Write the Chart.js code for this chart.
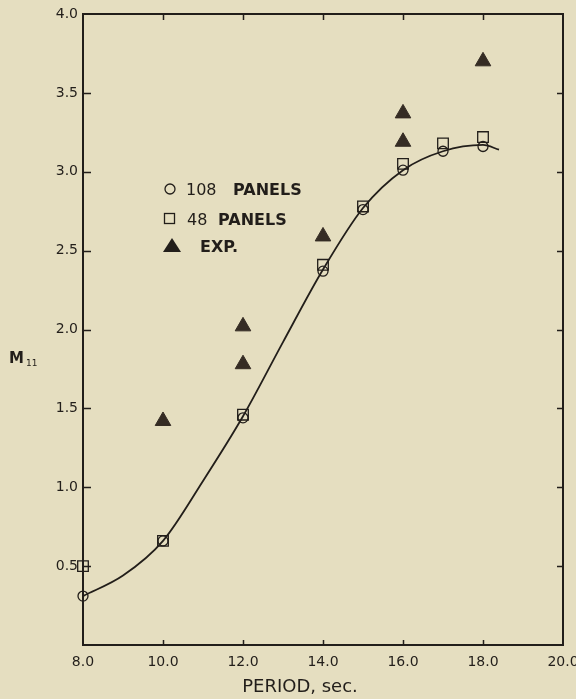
<!DOCTYPE html>
<html>
<head>
<meta charset="utf-8">
<title>M11 vs period</title>
<script src="https://cdn.jsdelivr.net/npm/chart.js@4/dist/chart.umd.min.js"></script>
<style>
  html, body { margin: 0; padding: 0; background: #e5dec0; }
  #wrap { width: 576px; height: 699px; }
</style>
</head>
<body>
<div id="wrap"><canvas id="chart" width="576" height="699"></canvas></div>
<script>
// data
const periods108 = [8, 10, 12, 14, 15, 16, 17, 18];
const m11Panels108 = [0.31, 0.66, 1.44, 2.37, 2.76, 3.01, 3.13, 3.16];

const periods48 = [8, 10, 12, 14, 15, 16, 17, 18];
const m11Panels48 = [0.50, 0.66, 1.46, 2.41, 2.78, 3.05, 3.18, 3.22];

const periodsExp = [10, 12, 12, 14, 16, 16, 18];
const m11Exp = [1.42, 2.02, 1.78, 2.59, 3.37, 3.19, 3.70];

// faired curve through the 108-panel results
const curvePeriods = [8, 9, 10, 11, 12, 13, 14, 15, 16, 17, 18, 18.4];
const curveM11 = [0.31, 0.44, 0.66, 1.04, 1.45, 1.92, 2.38, 2.77, 3.01, 3.13, 3.17, 3.14];

const xTicks = [8, 10, 12, 14, 16, 18, 20];
const yTicks = [0.5, 1.0, 1.5, 2.0, 2.5, 3.0, 3.5, 4.0];

const INK = '#221e1a';
const BG = '#e5dec0';

const toPoints = (xs, ys) => xs.map((x, i) => ({ x: x, y: ys[i] }));

// paper colour, frame, inward ticks, legend and axis titles
const paperPlugin = {
  id: 'paper',
  beforeDraw(chart) {
    const ctx = chart.ctx;
    ctx.save();
    ctx.fillStyle = BG;
    ctx.fillRect(0, 0, chart.width, chart.height);
    ctx.restore();
  },
  afterDraw(chart) {
    const ctx = chart.ctx;
    const a = chart.chartArea;
    const xs = chart.scales.x;
    const ys = chart.scales.y;
    ctx.save();
    ctx.strokeStyle = INK;
    ctx.lineWidth = 2;
    ctx.strokeRect(a.left, a.top, a.right - a.left, a.bottom - a.top);

    ctx.lineWidth = 1.5;
    ctx.beginPath();
    xTicks.forEach(v => {
      if (v === 8 || v === 20) return;
      const px = Math.round(xs.getPixelForValue(v)) + 0.5;
      ctx.moveTo(px, a.bottom); ctx.lineTo(px, a.bottom - 5);
      ctx.moveTo(px, a.top); ctx.lineTo(px, a.top + 6);
    });
    yTicks.forEach(v => {
      if (v === 4.0) return;
      const py = Math.round(ys.getPixelForValue(v)) + 0.5;
      ctx.moveTo(a.left, py); ctx.lineTo(a.left + 8, py);
      ctx.moveTo(a.right, py); ctx.lineTo(a.right - 6, py);
    });
    ctx.stroke();

    // legend
    ctx.fillStyle = INK;
    ctx.lineWidth = 1.3;
    ctx.textBaseline = 'alphabetic';
    ctx.beginPath();
    ctx.arc(170, 189, 5, 0, Math.PI * 2);
    ctx.stroke();
    ctx.strokeRect(164.5, 213.5, 10, 10);
    ctx.beginPath();
    ctx.moveTo(172, 238); ctx.lineTo(181, 252); ctx.lineTo(163, 252); ctx.closePath();
    ctx.fill();

    ctx.font = '16px "DejaVu Sans"';
    ctx.fillText('108', 186, 195);
    ctx.fillText('48', 187, 225);
    ctx.font = 'bold 16px "DejaVu Sans"';
    ctx.fillText('PANELS', 233, 195);
    ctx.fillText('PANELS', 218, 225);
    ctx.fillText('EXP.', 200, 252);

    // axis titles
    ctx.font = '18px "DejaVu Sans"';
    ctx.textAlign = 'center';
    ctx.fillText('PERIOD, sec.', 300, 692);
    ctx.textAlign = 'left';
    ctx.font = 'bold 15px "DejaVu Sans"';
    ctx.fillText('M', 9, 363);
    ctx.font = '9px "DejaVu Sans"';
    ctx.fillText('11', 26, 366);
    ctx.restore();
  }
};

const ctx = document.getElementById('chart').getContext('2d');
const chart = new Chart(ctx, {
  type: 'scatter',
  data: {
    datasets: [
      {
        type: 'line',
        label: 'curve',
        data: toPoints(curvePeriods, curveM11),
        borderColor: INK,
        borderWidth: 1.8,
        pointRadius: 0,
        fill: false,
        cubicInterpolationMode: 'monotone'
      },
      {
        label: '48 PANELS',
        data: toPoints(periods48, m11Panels48),
        pointStyle: 'rect',
        pointRadius: 7.5,
        borderColor: INK,
        borderWidth: 1.3,
        backgroundColor: 'rgba(0,0,0,0)',
        clip: false
      },
      {
        label: '108 PANELS',
        data: toPoints(periods108, m11Panels108),
        pointStyle: 'circle',
        pointRadius: 5,
        borderColor: INK,
        borderWidth: 1.3,
        backgroundColor: 'rgba(0,0,0,0)',
        clip: false
      },
      {
        label: 'EXP.',
        data: toPoints(periodsExp, m11Exp),
        pointStyle: 'triangle',
        pointRadius: 9,
        borderColor: '#352c24',
        borderWidth: 1,
        backgroundColor: '#352c24',
        clip: false
      }
    ]
  },
  options: {
    responsive: false,
    animation: false,
    layout: { padding: { top: 14, right: 13, left: 0, bottom: 0 } },
    plugins: {
      legend: { display: false },
      tooltip: { enabled: false }
    },
    scales: {
      x: {
        type: 'linear',
        min: 8,
        max: 20,
        afterBuildTicks: scale => { scale.ticks = xTicks.map(v => ({ value: v })); },
        afterFit: scale => { scale.height = 54; scale.paddingLeft = 0; scale.paddingRight = 0; },
        grid: { display: false, drawTicks: false },
        border: { display: false },
        ticks: {
          color: INK,
          padding: 9,
          maxRotation: 0,
          font: { family: 'DejaVu Sans', size: 14 },
          callback: v => v.toFixed(1)
        }
      },
      y: {
        type: 'linear',
        min: 0,
        max: 4,
        afterBuildTicks: scale => { scale.ticks = yTicks.map(v => ({ value: v })); },
        afterFit: scale => { scale.width = 83; scale.paddingTop = 0; scale.paddingBottom = 0; },
        grid: { display: false, drawTicks: false },
        border: { display: false },
        ticks: {
          color: INK,
          padding: 5,
          font: { family: 'DejaVu Sans', size: 14 },
          callback: v => v.toFixed(1)
        }
      }
    }
  },
  plugins: [paperPlugin]
});
</script>
</body>
</html>
